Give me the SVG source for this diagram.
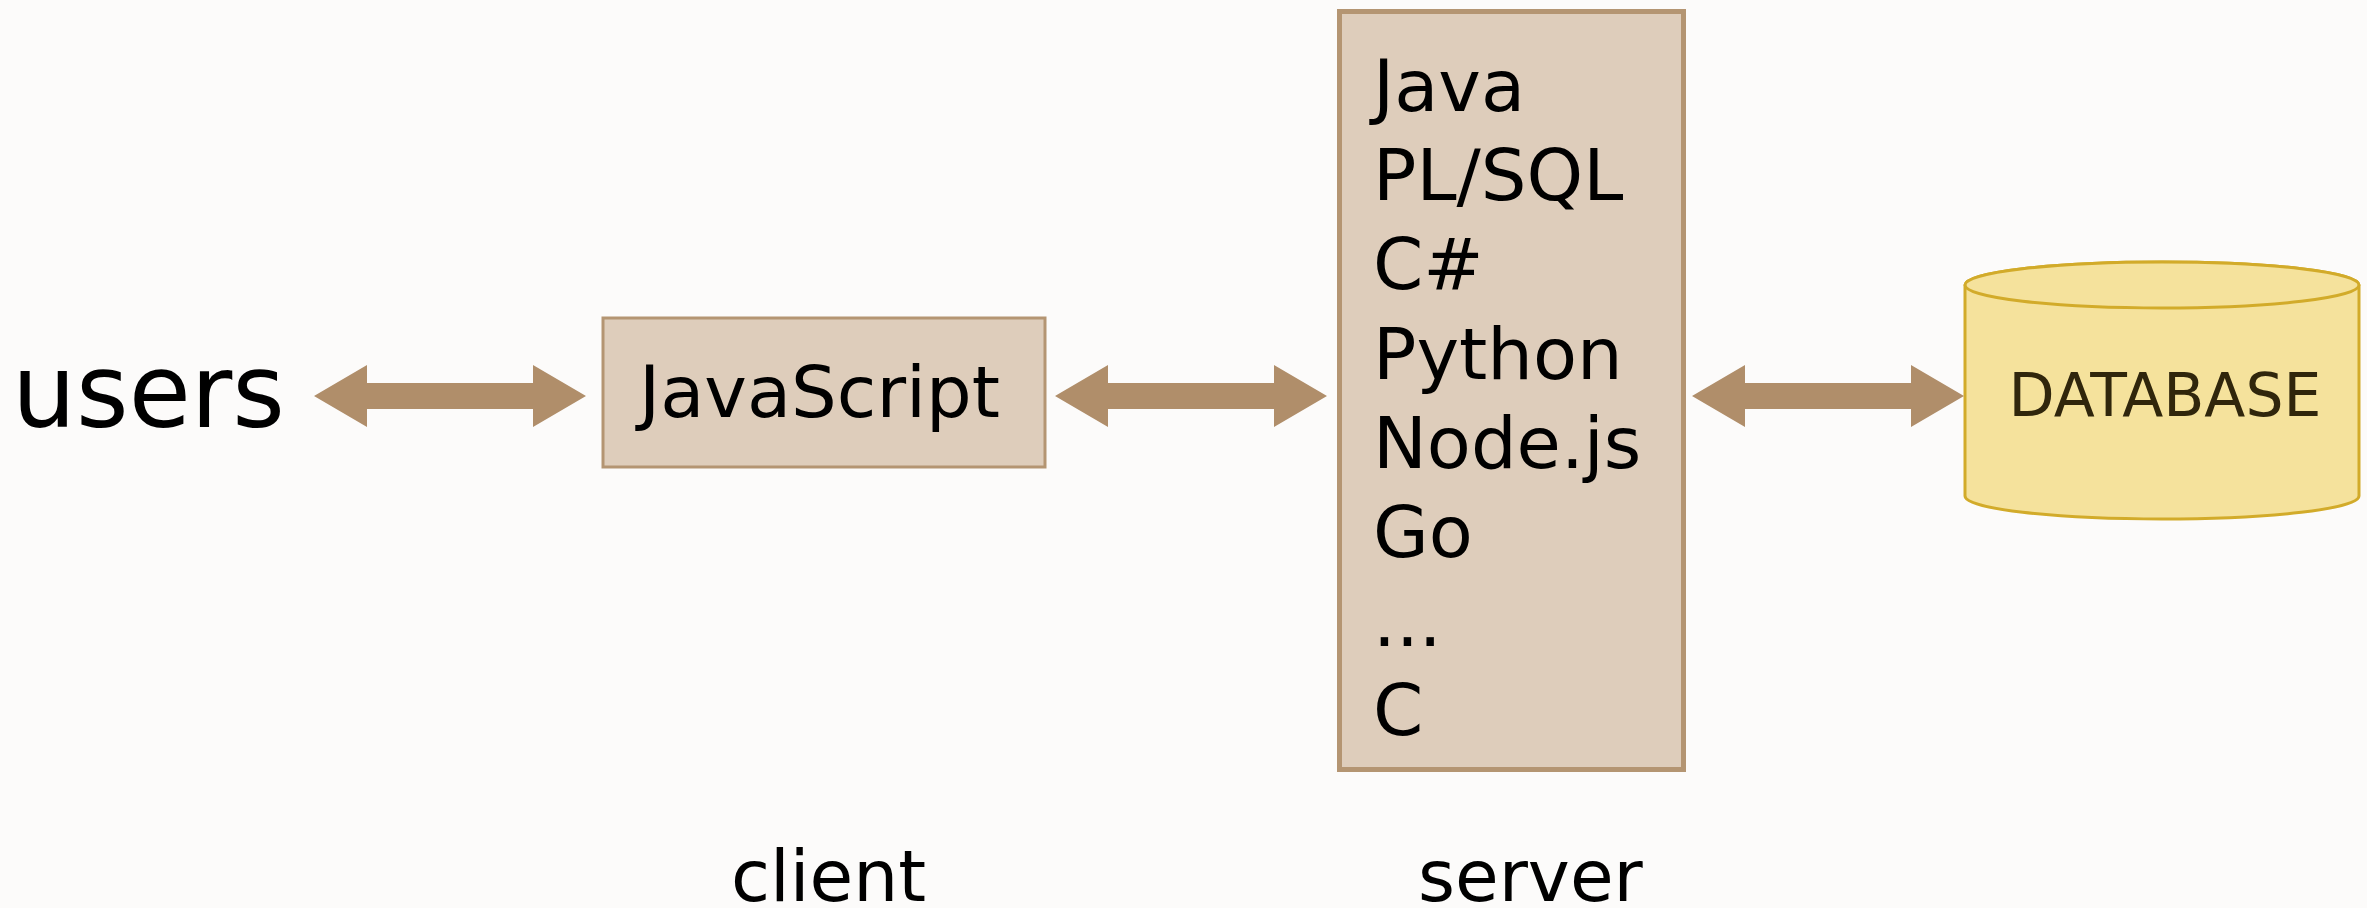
<svg xmlns="http://www.w3.org/2000/svg" width="2367" height="908" viewBox="0 0 2367 908">
  <style>
    .lbl { font-family: "DejaVu Sans", "Liberation Sans", sans-serif; fill: #000; }
    .box { fill: #decdbb; stroke: #b49572; }
    .arrow { fill: #b08e6a; }
    .db { fill: #f5e29c; stroke: #d2ab2a; stroke-width: 3; }
  </style>
  <defs>
    <!-- double-headed arrow, 272 long, centred on its own axis -->
    <polygon id="dbl-arrow" points="0,0 53,-31 53,-13 219,-13 219,-31 272,0 219,31 219,13 53,13 53,31"/>
  </defs>

  <rect width="2367" height="908" fill="#fcfbfa"/>

  <g id="users">
    <text class="lbl" x="12" y="427" font-size="101">users</text>
  </g>

  <g id="client">
    <rect class="box" x="603" y="318" width="442" height="149" stroke-width="3"/>
    <text class="lbl" x="639" y="417" font-size="72">JavaScript</text>
  </g>

  <g id="server">
    <rect class="box" x="1339.5" y="11.5" width="344" height="758" stroke-width="5"/>
    <text class="lbl" font-size="72">
      <tspan x="1373" y="111">Java</tspan>
      <tspan x="1373" y="200">PL/SQL</tspan>
      <tspan x="1373" y="289">C#</tspan>
      <tspan x="1373" y="379">Python</tspan>
      <tspan x="1373" y="468">Node.js</tspan>
      <tspan x="1373" y="557">Go</tspan>
      <tspan x="1373" y="646">...</tspan>
      <tspan x="1373" y="735">C</tspan>
    </text>
  </g>

  <g id="database">
    <path class="db" d="M1965,285 A197,23 0 0 1 2359,285 L2359,496 A197,23 0 0 1 1965,496 Z"/>
    <ellipse class="db" cx="2162" cy="285" rx="197" ry="23"/>
    <text x="2165" y="416" font-size="60" text-anchor="middle" font-family="'DejaVu Sans', 'Liberation Sans', sans-serif" fill="#30260c">DATABASE</text>
  </g>

  <g id="tier-labels">
    <text class="lbl" x="731" y="901" font-size="71">client</text>
    <text class="lbl" x="1418" y="901" font-size="71">server</text>
  </g>

  <g id="connectors" class="arrow">
    <use href="#dbl-arrow" x="314" y="396"/>
    <use href="#dbl-arrow" x="1055" y="396"/>
    <use href="#dbl-arrow" x="1692" y="396"/>
  </g>
</svg>
